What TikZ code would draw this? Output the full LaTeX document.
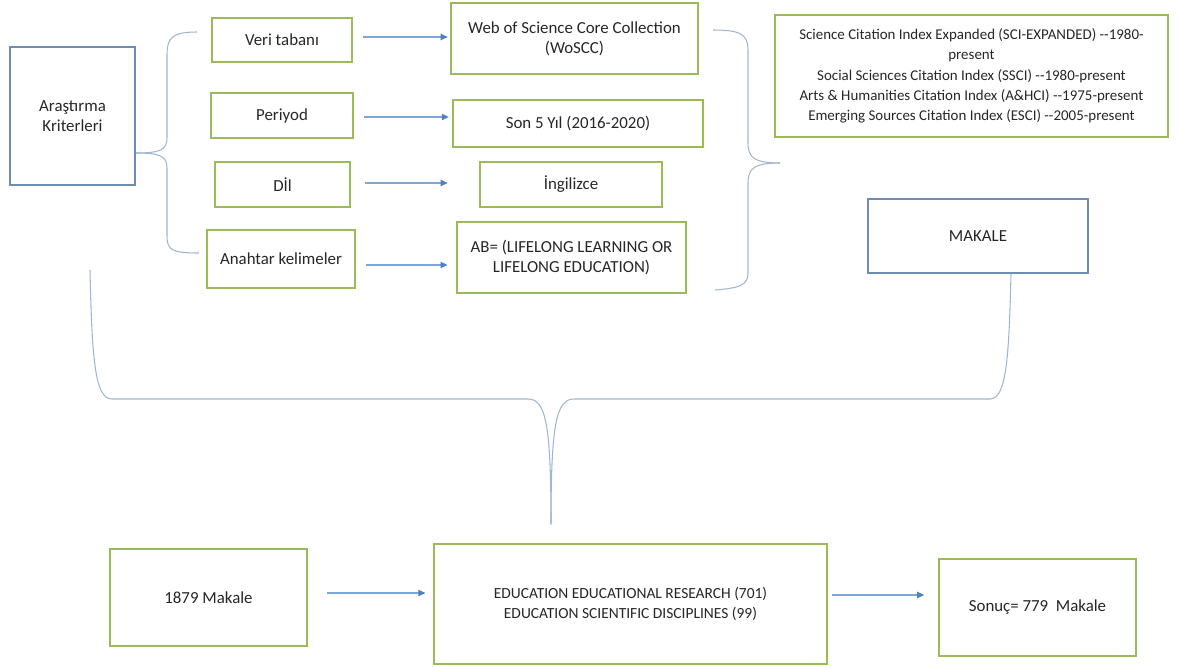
\documentclass[tikz,border=0pt]{standalone}
\usepackage{fontspec}
\setmainfont{Carlito}
\usepackage{xcolor}
\usepackage{tikz}
\usetikzlibrary{arrows.meta, calc}

\definecolor{boxgreen}{HTML}{9BBB59}
\definecolor{boxblue}{HTML}{6F8CB2}
\definecolor{linkblue}{HTML}{7FA6D6}
\definecolor{tipblue}{HTML}{4F81BD}
\definecolor{bracegray}{HTML}{9FB6D2}
\definecolor{textgray}{HTML}{262626}

\begin{document}
\begin{tikzpicture}[
    x=0.02cm, y=-0.02cm,
    crit/.style={rectangle, draw=boxgreen, line width=0.8pt, inner sep=0pt, align=center, text=textgray, font=\fontsize{9.6}{11.6}\selectfont},
    main/.style={rectangle, draw=boxblue, line width=0.9pt, inner sep=0pt, align=center, text=textgray, font=\fontsize{9.6}{11.6}\selectfont},
    arrow/.style={draw=linkblue, line width=0.6pt, -{Triangle[length=4pt, width=3.6pt, color=tipblue]}},
    brace/.style={draw=bracegray, line width=0.6pt}
]
    \useasboundingbox (0,0) rectangle (1178,667);

    \node[main, minimum width=2.5cm, minimum height=2.76cm] (kriter) at (72.5,116) {Araştırma\\Kriterleri};

    \node[crit, minimum width=2.8cm, minimum height=0.88cm] (veri) at (282,40) {Veri tabanı};
    \node[crit, minimum width=2.84cm, minimum height=0.9cm] (periyod) at (282,115.5) {Periyod};
    \node[crit, minimum width=2.7cm, minimum height=0.9cm] (dil) at (282.5,184.5) {Dİl};
    \node[crit, minimum width=2.96cm, minimum height=1.16cm] (anahtar) at (281,259) {Anahtar kelimeler};

    \node[crit, minimum width=4.94cm, minimum height=1.42cm] (wos) at (574.5,38.5) {Web of Science Core Collection\\(WoSCC)};
    \node[crit, minimum width=5cm, minimum height=0.94cm] (yil) at (578,123.5) {Son 5 Yıl (2016-2020)};
    \node[crit, minimum width=3.64cm, minimum height=0.9cm] (ingilizce) at (571,184.5) {İngilizce};
    \node[crit, minimum width=4.58cm, minimum height=1.42cm] (sorgu) at (571.5,257.5) {AB= (LIFELONG LEARNING OR\\LIFELONG EDUCATION)};

    \node[crit, minimum width=7.86cm, minimum height=2.44cm, font=\fontsize{8.5}{11.6}\selectfont] (indeks) at (971.5,76) {Science Citation Index Expanded (SCI-EXPANDED) -{}-1980-\\present\\Social Sciences Citation Index (SSCI) -{}-1980-present\\Arts \& Humanities Citation Index (A\&HCI) -{}-1975-present\\Emerging Sources Citation Index (ESCI) -{}-2005-present};
    \node[main, minimum width=4.4cm, minimum height=1.48cm] (makale) at (978,236) {MAKALE};

    \node[crit, minimum width=3.94cm, minimum height=1.94cm] (toplam) at (208.5,597.5) {1879 Makale};
    \node[crit, minimum width=7.86cm, minimum height=2.4cm, font=\fontsize{8.8}{11.2}\selectfont] (alan) at (630.5,604) {EDUCATION EDUCATIONAL RESEARCH (701)\\EDUCATION SCIENTIFIC DISCIPLINES (99)};
    \node[crit, minimum width=3.94cm, minimum height=1.94cm] (sonuc) at (1037.5,607.5) {Sonuç= 779~~Makale};

    \draw[arrow, shorten <=5.7pt, shorten >=1.5pt] ($(veri.east)+(0,-3)$) -- ($(veri.east -| wos.west)+(0,-3)$);
    \draw[arrow, shorten <=5.7pt, shorten >=2pt] ($(periyod.east)+(0,1.5)$) -- ($(periyod.east -| yil.west)+(0,1.5)$);
    \draw[arrow, shorten <=8pt, shorten >=18pt] ($(dil.east)+(0,-1.5)$) -- ($(dil.east -| ingilizce.west)+(0,-1.5)$);
    \draw[arrow, shorten <=5.7pt, shorten >=5pt] ($(anahtar.east)+(0,6)$) -- ($(anahtar.east -| sorgu.west)+(0,6)$);
    \draw[arrow, shorten <=11pt, shorten >=4.5pt] ($(toplam.east)+(0,-4.5)$) -- ($(toplam.east -| alan.west)+(0,-4.5)$);
    \draw[arrow, shorten <=2.3pt, shorten >=8pt] ($(alan.east)+(0,-9)$) -- ($(alan.east -| sonuc.west)+(0,-9)$);

    % braces grouping the criteria
    \coordinate (ktip) at ($(kriter.east)+(0,37)$);
    \draw[brace] (197,32) .. controls (172,32) and (167,38) .. (167,55) -- (167,138)
        .. controls (167,150) and (160,153) .. (ktip);
    \draw[brace] (ktip) .. controls (160,153) and (167,156) .. (167,168) -- (167,236)
        .. controls (167,250) and (172,253) .. (199,253);

    \coordinate (rtip) at (780,163);
    \draw[brace] (713,30) .. controls (740,30) and (748,34) .. (748,50) -- (748,143)
        .. controls (748,158) and (755,163) .. (rtip);
    \draw[brace] (rtip) .. controls (755,163) and (748,168) .. (748,183) -- (748,273)
        .. controls (748,285) and (740,288) .. (715,290);

    \coordinate (btip) at ($(alan.north)+(-79.5,-19)$);
    \draw[brace] (90,270) .. controls (92,360) and (95,399) .. (112,399) -- (528,399)
        .. controls (546,399) and (551,425) .. (btip);
    \draw[brace] (btip) .. controls (551,425) and (556,399) .. (574,399) -- (990,399)
        .. controls (1006,399) and (1009,360) .. ($(makale.south)+(33,0)$);
\end{tikzpicture}
\end{document}
